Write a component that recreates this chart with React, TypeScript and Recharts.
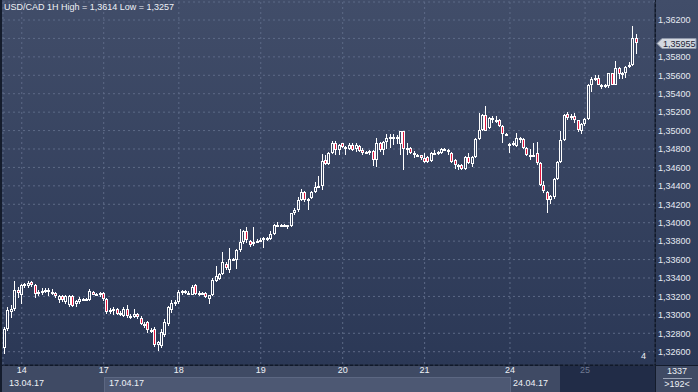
import React from "react";
import { ComposedChart, Bar, XAxis, YAxis, CartesianGrid, ReferenceLine } from "recharts";

// USD/CAD hourly candles, [open, high, low, close]
const apr13 = [
  [1.3264, 1.3287, 1.3257, 1.3285],
  [1.3285, 1.3308, 1.3283, 1.3305],
  [1.3303, 1.3311, 1.3297, 1.3306],
  [1.3306, 1.3337, 1.3304, 1.3327],
  [1.3327, 1.333, 1.3318, 1.3324],
];

const apr14 = [
  [1.3321, 1.3334, 1.3312, 1.3332],
  [1.3332, 1.3335, 1.3329, 1.3333],
  [1.3331, 1.3337, 1.3329, 1.3335],
  [1.3336, 1.3337, 1.333, 1.3332],
  [1.3332, 1.3334, 1.3318, 1.3323],
  [1.3323, 1.3327, 1.332, 1.3325],
  [1.3325, 1.3329, 1.3322, 1.3326],
  [1.3326, 1.3329, 1.3324, 1.3327],
  [1.3327, 1.3329, 1.332, 1.3325],
  [1.3325, 1.3328, 1.3321, 1.3323],
  [1.3324, 1.3325, 1.3318, 1.332],
  [1.3316, 1.3322, 1.3313, 1.332],
  [1.332, 1.3321, 1.3314, 1.3316],
  [1.3314, 1.3322, 1.3312, 1.332],
  [1.3311, 1.3321, 1.3309, 1.332],
  [1.332, 1.3322, 1.3308, 1.331],
  [1.3312, 1.3316, 1.3309, 1.3315],
  [1.3314, 1.3319, 1.3312, 1.3317],
  [1.3316, 1.3318, 1.3315, 1.3317],
  [1.3317, 1.3318, 1.3315, 1.3316],
  [1.3316, 1.3328, 1.3315, 1.3326],
  [1.3325, 1.3326, 1.3321, 1.3322],
  [1.3323, 1.3324, 1.332, 1.3321],
  [1.3321, 1.3325, 1.3319, 1.3324],
];

const apr17 = [
  [1.3324, 1.3325, 1.3315, 1.3317],
  [1.3317, 1.3318, 1.3301, 1.3303],
  [1.3303, 1.3307, 1.3301, 1.3305],
  [1.3304, 1.3308, 1.33, 1.3306],
  [1.3306, 1.3307, 1.33, 1.3301],
  [1.3301, 1.3304, 1.3299, 1.3302],
  [1.3299, 1.3308, 1.3298, 1.3306],
  [1.3306, 1.3311, 1.3297, 1.3299],
  [1.3299, 1.3301, 1.3295, 1.3298],
  [1.3298, 1.3306, 1.3297, 1.3301],
  [1.3301, 1.3302, 1.3296, 1.3298],
  [1.3297, 1.3299, 1.3289, 1.329],
  [1.329, 1.3292, 1.3286, 1.3289],
  [1.3292, 1.3293, 1.328, 1.3284],
  [1.3284, 1.3286, 1.328, 1.3283],
  [1.3285, 1.3287, 1.3265, 1.3267],
  [1.3267, 1.3272, 1.3261, 1.327],
  [1.3266, 1.3285, 1.3264, 1.3281],
  [1.3278, 1.3295, 1.3276, 1.3292],
  [1.329, 1.331, 1.3288, 1.3308],
  [1.3305, 1.3316, 1.3302, 1.3313],
  [1.3313, 1.3316, 1.331, 1.3314],
];

const apr18 = [
  [1.3314, 1.3327, 1.3312, 1.3325],
  [1.3325, 1.3327, 1.3321, 1.3326],
  [1.3326, 1.3327, 1.3323, 1.3324],
  [1.3323, 1.3326, 1.3321, 1.3324],
  [1.3322, 1.3332, 1.3321, 1.333],
  [1.3332, 1.3333, 1.3322, 1.3323],
  [1.3323, 1.3326, 1.332, 1.3324],
  [1.3323, 1.3325, 1.3322, 1.3324],
  [1.3324, 1.3325, 1.3318, 1.3319],
  [1.3317, 1.3322, 1.3312, 1.3321],
  [1.3321, 1.334, 1.332, 1.3338],
  [1.3337, 1.3353, 1.3336, 1.3342],
  [1.3339, 1.3345, 1.3338, 1.3344],
  [1.3344, 1.3368, 1.3343, 1.3357],
  [1.3355, 1.3357, 1.3349, 1.3351],
  [1.3349, 1.3373, 1.3345, 1.3361],
  [1.3361, 1.3362, 1.3358, 1.3359],
  [1.3359, 1.3372, 1.335, 1.337],
  [1.337, 1.3393, 1.3368, 1.3379],
  [1.3379, 1.3392, 1.3377, 1.3391],
  [1.3391, 1.3395, 1.3378, 1.3381],
  [1.338, 1.3381, 1.3374, 1.3376],
  [1.3377, 1.3395, 1.3375, 1.3379],
  [1.3379, 1.3382, 1.3378, 1.338],
];

const apr19 = [
  [1.338, 1.3383, 1.3379, 1.3381],
  [1.3381, 1.3385, 1.3373, 1.3383],
  [1.3383, 1.3384, 1.338, 1.3382],
  [1.3382, 1.3391, 1.3381, 1.3388],
  [1.3388, 1.3399, 1.3387, 1.3397],
  [1.3397, 1.3401, 1.3395, 1.3398],
  [1.3398, 1.3399, 1.3396, 1.3397],
  [1.3397, 1.3399, 1.3395, 1.3398],
  [1.3397, 1.3398, 1.3393, 1.3396],
  [1.3396, 1.3411, 1.3395, 1.341],
  [1.341, 1.3416, 1.3408, 1.3414],
  [1.3414, 1.3428, 1.3412, 1.3425],
  [1.3425, 1.3437, 1.3424, 1.3433],
  [1.3433, 1.3434, 1.3423, 1.3425],
  [1.3425, 1.3427, 1.3414, 1.3426],
  [1.3427, 1.3434, 1.3426, 1.3433],
  [1.3433, 1.3444, 1.3432, 1.3439],
  [1.3439, 1.3451, 1.3438, 1.344],
  [1.344, 1.3475, 1.3436, 1.3467],
  [1.3468, 1.3474, 1.3463, 1.3464],
  [1.3464, 1.3477, 1.3463, 1.3476],
  [1.3476, 1.3489, 1.3475, 1.3486],
  [1.3486, 1.3489, 1.3474, 1.3479],
  [1.3479, 1.3485, 1.3473, 1.3484],
];

const apr20 = [
  [1.3486, 1.3487, 1.3481, 1.3482],
  [1.3482, 1.3483, 1.3474, 1.348],
  [1.348, 1.3487, 1.3479, 1.3484],
  [1.3484, 1.3487, 1.3478, 1.3479],
  [1.348, 1.3487, 1.3477, 1.3484],
  [1.3483, 1.3484, 1.3477, 1.3478],
  [1.3479, 1.3481, 1.3474, 1.3476],
  [1.3477, 1.3478, 1.3475, 1.3476],
  [1.3476, 1.3479, 1.3474, 1.3478],
  [1.3478, 1.3479, 1.3462, 1.3468],
  [1.3468, 1.3492, 1.3461, 1.3487],
  [1.3487, 1.3488, 1.3477, 1.3479],
  [1.3479, 1.3489, 1.3474, 1.3488],
  [1.3488, 1.3496, 1.348, 1.3492],
  [1.3492, 1.3496, 1.3481, 1.3493],
  [1.3492, 1.3496, 1.3484, 1.3493],
  [1.3493, 1.3495, 1.3485, 1.3492],
  [1.3485, 1.35, 1.3474, 1.3499],
  [1.3499, 1.35, 1.3457, 1.348],
  [1.348, 1.3486, 1.3474, 1.3481],
  [1.3481, 1.3482, 1.3475, 1.3476],
  [1.3476, 1.3478, 1.347, 1.3474],
  [1.3474, 1.3475, 1.3471, 1.3472],
  [1.3473, 1.3474, 1.3468, 1.347],
];

const apr21 = [
  [1.347, 1.3476, 1.3465, 1.3466],
  [1.3471, 1.3472, 1.3465, 1.3466],
  [1.3467, 1.3477, 1.3466, 1.3476],
  [1.3476, 1.3479, 1.3473, 1.3474],
  [1.3475, 1.3478, 1.3474, 1.3477],
  [1.3476, 1.3481, 1.3475, 1.348],
  [1.348, 1.3481, 1.3478, 1.3479],
  [1.3479, 1.348, 1.3474, 1.3477],
  [1.3476, 1.3477, 1.3465, 1.3466],
  [1.3468, 1.3469, 1.3458, 1.3463],
  [1.3463, 1.3464, 1.3457, 1.3461],
  [1.3463, 1.3464, 1.3457, 1.3458],
  [1.3458, 1.3472, 1.3457, 1.3471],
  [1.3471, 1.3476, 1.3464, 1.3465],
  [1.3464, 1.3472, 1.346, 1.3471],
  [1.3471, 1.3492, 1.347, 1.3491],
  [1.3491, 1.3519, 1.349, 1.3501],
  [1.3501, 1.3518, 1.35, 1.3517],
  [1.3517, 1.3527, 1.3499, 1.35],
  [1.3503, 1.3515, 1.3502, 1.3514],
  [1.3514, 1.3516, 1.3508, 1.3511],
  [1.3511, 1.3516, 1.3508, 1.3512],
  [1.3512, 1.3513, 1.3504, 1.3505],
  [1.3505, 1.3506, 1.3487, 1.3496],
  [1.3496, 1.3497, 1.3494, 1.3495],
];

const apr24 = [
  [1.3485, 1.3486, 1.3476, 1.3483],
  [1.3485, 1.3489, 1.3483, 1.3487],
  [1.3483, 1.3497, 1.3482, 1.3492],
  [1.3492, 1.3493, 1.3486, 1.349],
  [1.3491, 1.3492, 1.348, 1.3481],
  [1.3481, 1.3482, 1.3472, 1.3474],
  [1.3474, 1.348, 1.3468, 1.3471],
  [1.3472, 1.3487, 1.3471, 1.3474],
  [1.3476, 1.3488, 1.3463, 1.3465],
  [1.3465, 1.3466, 1.344, 1.3441],
  [1.3441, 1.3445, 1.3432, 1.3434],
  [1.3433, 1.3434, 1.341, 1.3425],
  [1.3425, 1.343, 1.342, 1.3429],
  [1.3428, 1.3448, 1.3426, 1.3447],
  [1.3447, 1.3467, 1.3446, 1.3466],
  [1.3466, 1.3499, 1.3465, 1.349],
  [1.349, 1.3518, 1.3489, 1.3517],
  [1.3518, 1.352, 1.3511, 1.3514],
  [1.3514, 1.3518, 1.3512, 1.3516],
  [1.3516, 1.3519, 1.3508, 1.3512],
  [1.3511, 1.3512, 1.3498, 1.3501],
  [1.35, 1.3508, 1.3496, 1.3507],
];

const apr25 = [
  [1.3507, 1.3514, 1.3505, 1.3513],
  [1.3513, 1.3551, 1.3512, 1.3549],
  [1.3549, 1.3558, 1.3542, 1.3556],
  [1.3555, 1.356, 1.3554, 1.3557],
  [1.3557, 1.356, 1.3549, 1.355],
  [1.355, 1.3551, 1.3545, 1.3549],
  [1.3549, 1.3551, 1.3546, 1.355],
  [1.3548, 1.3563, 1.3546, 1.3562],
  [1.3562, 1.3563, 1.3549, 1.355],
  [1.355, 1.3575, 1.3549, 1.3568],
  [1.3568, 1.3569, 1.3556, 1.3561],
  [1.3561, 1.3564, 1.3556, 1.3563],
  [1.3563, 1.357, 1.3557, 1.3569],
  [1.3569, 1.3574, 1.3568, 1.3571],
  [1.3571, 1.3614, 1.357, 1.3601],
  [1.3601, 1.3605, 1.3583, 1.35955],
];

const sessions = [
  { day: "", candles: apr13 },
  { day: "14", candles: apr14 },
  { day: "17", candles: apr17 },
  { day: "18", candles: apr18 },
  { day: "19", candles: apr19 },
  { day: "20", candles: apr20 },
  { day: "21", candles: apr21 },
  { day: "24", candles: apr24 },
  { day: "25", candles: apr25 },
];

const priceTicks = [
  1.326, 1.328, 1.33, 1.332, 1.334, 1.336, 1.338, 1.34, 1.342, 1.344, 1.346,
  1.348, 1.35, 1.352, 1.354, 1.356, 1.358, 1.36, 1.362,
];

type Candle = { i: number; o: number; h: number; l: number; c: number };

const data: Candle[] = [];
const dayStarts: number[] = [];
const dayLabel: Record<number, string> = {};
sessions.forEach((s) => {
  if (s.day) {
    dayStarts.push(data.length);
    dayLabel[data.length] = s.day;
  }
  s.candles.forEach(([o, h, l, c]) => data.push({ i: data.length, o, h, l, c }));
});
const lastClose = data[data.length - 1].c;

const FONT = '"Liberation Sans", Arial, sans-serif';
const fmt = (v: number) => v.toFixed(5).replace(".", ",");

const CandleShape = (props: any) => {
  const { x, y, width, height, payload } = props;
  if (!payload || height == null) return null;
  const { o, h, l, c } = payload as Candle;
  const top = Math.min(y, y + height);
  const span = Math.abs(height);
  const yOf = (v: number) => top + ((h - v) / (h - l)) * span;
  const col = Math.floor(x + width / 2);
  const wx = col + 0.5;
  const bTop = Math.round(yOf(Math.max(o, c)));
  const bBot = Math.max(Math.round(yOf(Math.min(o, c))), bTop + 2);
  const hy = Math.round(yOf(h));
  const ly = Math.round(yOf(l));
  const down = c < o;
  return (
    <g>
      {hy < bTop && <line x1={wx} x2={wx} y1={hy} y2={bTop} stroke="#ffffff" />}
      {ly > bBot && <line x1={wx} x2={wx} y1={bBot} y2={ly} stroke="#ffffff" />}
      <rect
        x={col - 0.5}
        y={bTop + 0.5}
        width={2}
        height={bBot - bTop - 1}
        fill={down ? "#e3173e" : "none"}
        stroke="#ffffff"
        strokeWidth={1}
      />
    </g>
  );
};

const DayTick = (props: any) => {
  const { x, y, payload } = props;
  const label = dayLabel[payload.value] ?? "";
  return (
    <text
      x={x}
      y={y + 8}
      textAnchor="middle"
      fontSize={9}
      fontFamily={FONT}
      fill={label === "25" ? "#6f7a92" : "#eef1f6"}
    >
      {label}
    </text>
  );
};

// the last-price tag hides the price label it sits on
const PriceTick = (props: any) => {
  const { x, y, payload } = props;
  if (Math.abs(payload.value - lastClose) < 0.0006) return <g />;
  return (
    <text x={x} y={y} dy="0.36em" textAnchor="start" fontSize={9} fontFamily={FONT} fill="#e6eaf2">
      {fmt(payload.value)}
    </text>
  );
};

const PriceTag = (props: any) => {
  const vb = props.viewBox;
  if (!vb) return null;
  const x = vb.x + vb.width;
  const y = Math.round(vb.y) + 0.5;
  return (
    <g>
      <path
        d={`M${x + 2} ${y} L${x + 7} ${y - 5} H${x + 41} V${y + 5} H${x + 7} Z`}
        fill="#d3d8e0"
        stroke="#8e97aa"
      />
      <text x={x + 8} y={y} dy="0.36em" fontSize={9} fontFamily={FONT} fill="#1c2436">
        {fmt(lastClose)}
      </text>
    </g>
  );
};

const label = (left: number, top: number, text: string, extra: React.CSSProperties = {}) => (
  <div
    style={{
      position: "absolute",
      left,
      top,
      height: 11,
      lineHeight: "11px",
      fontSize: 9,
      color: "#eef1f6",
      whiteSpace: "nowrap",
      ...extra,
    }}
  >
    {text}
  </div>
);

const App = () => {
  return (
    <div
      style={{
        position: "absolute",
        left: 0,
        top: 0,
        width: 698,
        height: 392,
        background: "#141c2c",
        fontFamily: FONT,
        overflow: "hidden",
      }}
    >
      {/* plot and price column backgrounds */}
      <div
        style={{
          position: "absolute",
          left: 2,
          top: 0,
          width: 653,
          height: 365,
          background: "linear-gradient(#414d69, #2b3856)",
        }}
      />
      <div
        style={{
          position: "absolute",
          left: 656,
          top: 0,
          width: 42,
          height: 365,
          background: "linear-gradient(#414d69, #2b3856)",
        }}
      />
      {/* time panel */}
      <div
        style={{
          position: "absolute",
          left: 2,
          top: 366,
          width: 653,
          height: 26,
          background: "#3f4a64",
        }}
      />
      <div
        style={{
          position: "absolute",
          left: 104,
          top: 377,
          width: 405,
          height: 15,
          background: "#4d5873",
          borderTop: "1px solid #5c6782",
          borderLeft: "1px solid #5c6782",
          borderRight: "1px solid #5c6782",
        }}
      />
      <div
        style={{
          position: "absolute",
          left: 560,
          top: 366,
          width: 95,
          height: 26,
          background: "#212c47",
        }}
      />
      <div
        style={{
          position: "absolute",
          left: 656,
          top: 366,
          width: 42,
          height: 26,
          background: "#3f4a64",
        }}
      />
      <div
        style={{
          position: "absolute",
          left: 663,
          top: 378,
          width: 29,
          height: 1,
          background: "#9aa3b6",
        }}
      />

      <div style={{ position: "absolute", left: 0, top: 0 }}>
        <ComposedChart
          width={698}
          height={392}
          data={data}
          margin={{ top: 2, right: 0, bottom: 0, left: 3 }}
          barCategoryGap={0}
        >
          <CartesianGrid stroke="#5d6a87" strokeDasharray="2 3" />
          <XAxis
            dataKey="i"
            type="category"
            ticks={dayStarts}
            interval={0}
            padding={{ left: 0, right: 17 }}
            height={27}
            tickSize={0}
            tickMargin={0}
            tickLine={false}
            axisLine={{ stroke: "#0f1626" }}
            tick={<DayTick />}
          />
          <YAxis
            orientation="right"
            type="number"
            domain={[1.324557, 1.363954]}
            allowDataOverflow
            ticks={priceTicks}
            interval={0}
            width={43}
            tickSize={1}
            tickMargin={2}
            tickLine={false}
            axisLine={{ stroke: "#0f1626" }}
            tick={<PriceTick />}
          />
          <Bar
            dataKey={(d: Candle) => [d.l, d.h]}
            shape={<CandleShape />}
            isAnimationActive={false}
          />
          <ReferenceLine y={lastClose} stroke="none" ifOverflow="visible" label={<PriceTag />} />
        </ComposedChart>
      </div>

      {label(4, 2, "USD/CAD 1H High = 1,3614 Low = 1,3257")}
      {label(641, 351, "4")}
      {label(9, 378, "13.04.17")}
      {label(109, 378, "17.04.17")}
      {label(513, 378, "24.04.17")}
      {label(656, 366, "1337", { width: 42, textAlign: "center" })}
      {label(656, 379, ">192<", { width: 42, textAlign: "center" })}
    </div>
  );
};

export default App;
